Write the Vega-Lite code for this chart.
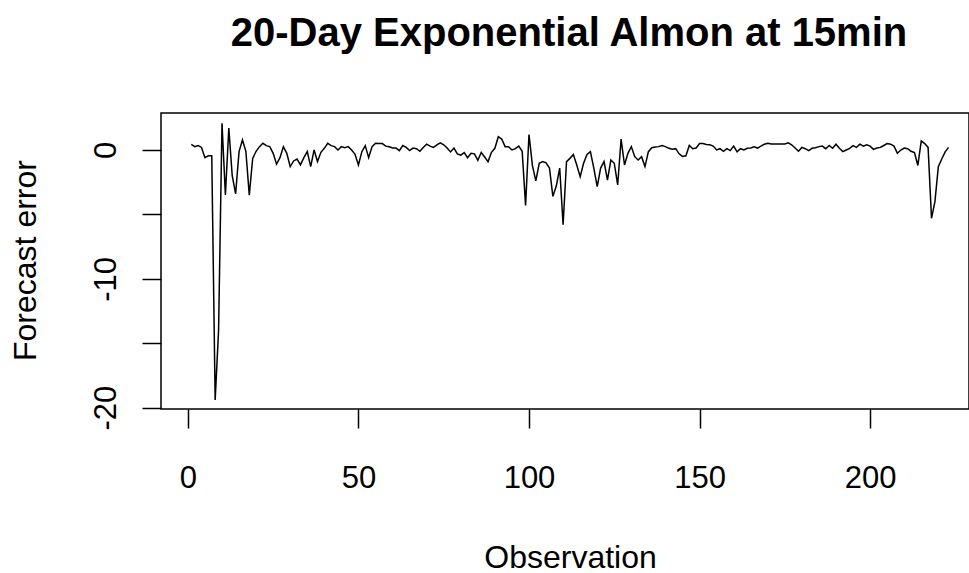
{
  "$schema": "https://vega.github.io/schema/vega-lite/v6.json",
  "autosize": {"type": "none"},
  "padding": {"left": 161, "top": 113, "right": 0, "bottom": 164},
  "width": 808,
  "height": 296,
  "background": "white",
  "config": {
    "view": {"stroke": "black", "strokeWidth": 1.5},
    "font": "Liberation Sans"
  },
  "title": {
    "text": "20-Day Exponential Almon at 15min",
    "font": "Liberation Sans",
    "fontSize": 40,
    "fontWeight": "bold",
    "color": "black",
    "anchor": "middle",
    "frame": "group",
    "baseline": "alphabetic",
    "offset": 27,
    "dx": 4
  },
  "data": {"values": [
    {"x":1,"y":0.44},{"x":2,"y":0.26},{"x":3,"y":0.34},{"x":4,"y":0.2},{"x":5,"y":-0.6},{"x":6,"y":-0.45},{"x":7,"y":-0.45},{"x":8,"y":-19.4},{"x":9,"y":-14.0},{"x":10,"y":2.07},
    {"x":11,"y":-3.5},{"x":12,"y":1.7},{"x":13,"y":-2.0},{"x":14,"y":-3.4},{"x":15,"y":-0.13},{"x":16,"y":0.78},{"x":17,"y":-0.1},{"x":18,"y":-3.5},{"x":19,"y":-0.65},{"x":20,"y":-0.1},
    {"x":21,"y":0.26},{"x":22,"y":0.52},{"x":23,"y":0.34},{"x":24,"y":0.26},{"x":25,"y":-0.26},{"x":26,"y":-1.1},{"x":27,"y":-0.6},{"x":28,"y":0.26},{"x":29,"y":-0.26},{"x":30,"y":-1.29},
    {"x":31,"y":-0.85},{"x":32,"y":-0.7},{"x":33,"y":-1.16},{"x":34,"y":-0.59},{"x":35,"y":-0.13},{"x":36,"y":-1.29},{"x":37,"y":0.0},{"x":38,"y":-0.9},{"x":39,"y":-0.18},{"x":40,"y":0.13},
    {"x":41,"y":0.52},{"x":42,"y":0.34},{"x":43,"y":0.26},{"x":44,"y":0.0},{"x":45,"y":0.26},{"x":46,"y":0.18},{"x":47,"y":0.26},{"x":48,"y":0.0},{"x":49,"y":-0.34},{"x":50,"y":-1.16},
    {"x":51,"y":-0.13},{"x":52,"y":0.34},{"x":53,"y":-0.59},{"x":54,"y":0.26},{"x":55,"y":0.52},{"x":56,"y":0.5},{"x":57,"y":0.5},{"x":58,"y":0.3},{"x":59,"y":0.25},{"x":60,"y":0.15},
    {"x":61,"y":0.15},{"x":62,"y":-0.05},{"x":63,"y":0.35},{"x":64,"y":0.2},{"x":65,"y":-0.05},{"x":66,"y":0.15},{"x":67,"y":0.1},{"x":68,"y":-0.1},{"x":69,"y":0.2},{"x":70,"y":0.45},
    {"x":71,"y":0.3},{"x":72,"y":0.2},{"x":73,"y":0.4},{"x":74,"y":0.55},{"x":75,"y":0.4},{"x":76,"y":0.15},{"x":77,"y":-0.15},{"x":78,"y":0.15},{"x":79,"y":-0.3},{"x":80,"y":-0.4},
    {"x":81,"y":-0.2},{"x":82,"y":-0.6},{"x":83,"y":-0.25},{"x":84,"y":-0.3},{"x":85,"y":-0.8},{"x":86,"y":-0.2},{"x":87,"y":-0.55},{"x":88,"y":-0.9},{"x":89,"y":-0.18},{"x":90,"y":0.13},
    {"x":91,"y":1.03},{"x":92,"y":0.85},{"x":93,"y":0.26},{"x":94,"y":0.26},{"x":95,"y":0.0},{"x":96,"y":0.1},{"x":97,"y":0.3},{"x":98,"y":-0.1},{"x":99,"y":-4.3},{"x":100,"y":1.2},
    {"x":101,"y":-1.2},{"x":102,"y":-2.4},{"x":103,"y":-1.03},{"x":104,"y":-0.9},{"x":105,"y":-1.0},{"x":106,"y":-1.4},{"x":107,"y":-3.6},{"x":108,"y":-2.8},{"x":109,"y":-1.4},{"x":110,"y":-5.8},
    {"x":111,"y":-0.9},{"x":112,"y":-0.65},{"x":113,"y":-0.35},{"x":114,"y":-1.16},{"x":115,"y":-2.07},{"x":116,"y":-1.03},{"x":117,"y":-0.34},{"x":118,"y":-0.13},{"x":119,"y":-1.4},{"x":120,"y":-2.84},
    {"x":121,"y":-1.4},{"x":122,"y":-0.9},{"x":123,"y":-2.33},{"x":124,"y":-0.78},{"x":125,"y":-1.03},{"x":126,"y":-2.71},{"x":127,"y":0.85},{"x":128,"y":-1.16},{"x":129,"y":-0.26},{"x":130,"y":0.26},
    {"x":131,"y":-0.52},{"x":132,"y":-0.78},{"x":133,"y":-0.52},{"x":134,"y":-1.29},{"x":135,"y":-0.13},{"x":136,"y":0.18},{"x":137,"y":0.23},{"x":138,"y":0.26},{"x":139,"y":0.34},{"x":140,"y":0.26},
    {"x":141,"y":0.13},{"x":142,"y":0.05},{"x":143,"y":0.1},{"x":144,"y":-0.3},{"x":145,"y":-0.5},{"x":146,"y":-0.45},{"x":147,"y":0.35},{"x":148,"y":0.1},{"x":149,"y":0.15},{"x":150,"y":0.5},
    {"x":151,"y":0.5},{"x":152,"y":0.43},{"x":153,"y":0.4},{"x":154,"y":0.3},{"x":155,"y":0.0},{"x":156,"y":0.1},{"x":157,"y":-0.1},{"x":158,"y":0.1},{"x":159,"y":-0.05},{"x":160,"y":0.3},
    {"x":161,"y":-0.15},{"x":162,"y":0.1},{"x":163,"y":0.0},{"x":164,"y":0.13},{"x":165,"y":0.15},{"x":166,"y":0.25},{"x":167,"y":0.15},{"x":168,"y":0.3},{"x":169,"y":0.45},{"x":170,"y":0.52},
    {"x":171,"y":0.47},{"x":172,"y":0.47},{"x":173,"y":0.47},{"x":174,"y":0.47},{"x":175,"y":0.47},{"x":176,"y":0.55},{"x":177,"y":0.4},{"x":178,"y":0.15},{"x":179,"y":-0.1},{"x":180,"y":0.2},
    {"x":181,"y":0.1},{"x":182,"y":-0.05},{"x":183,"y":0.13},{"x":184,"y":0.18},{"x":185,"y":0.26},{"x":186,"y":0.3},{"x":187,"y":0.1},{"x":188,"y":0.35},{"x":189,"y":0.13},{"x":190,"y":0.45},
    {"x":191,"y":0.13},{"x":192,"y":-0.13},{"x":193,"y":0.0},{"x":194,"y":0.13},{"x":195,"y":0.34},{"x":196,"y":0.2},{"x":197,"y":0.45},{"x":198,"y":0.3},{"x":199,"y":0.4},{"x":200,"y":0.3},
    {"x":201,"y":0.05},{"x":202,"y":0.15},{"x":203,"y":0.2},{"x":204,"y":0.35},{"x":205,"y":0.5},{"x":206,"y":0.45},{"x":207,"y":0.3},{"x":208,"y":-0.25},{"x":209,"y":0.0},{"x":210,"y":0.15},
    {"x":211,"y":0.1},{"x":212,"y":-0.1},{"x":213,"y":-0.2},{"x":214,"y":-1.2},{"x":215,"y":0.7},{"x":216,"y":0.5},{"x":217,"y":0.2},{"x":218,"y":-5.3},{"x":219,"y":-4.0},{"x":220,"y":-1.3},
    {"x":221,"y":-0.7},{"x":222,"y":-0.15},{"x":223,"y":0.2}
  ]},
  "mark": {"type": "line", "color": "black", "strokeWidth": 1.5},
  "encoding": {
    "x": {
      "field": "x",
      "type": "quantitative",
      "scale": {"domain": [-7.88, 228.99], "nice": false, "zero": false},
      "axis": {
        "values": [0, 50, 100, 150, 200],
        "grid": false,
        "domain": false,
        "ticks": true,
        "tickSize": 19,
        "tickWidth": 1.5,
        "tickColor": "black",
        "labelFont": "Liberation Sans",
        "labelFontSize": 31,
        "labelColor": "black",
        "labelBaseline": "alphabetic",
        "labelPadding": 59,
        "labelFlush": false,
        "labelOverlap": false,
        "title": "Observation",
        "titleFont": "Liberation Sans",
        "titleFontSize": 32,
        "titleFontWeight": "normal",
        "titleColor": "black",
        "titleBaseline": "alphabetic",
        "titleAlign": "center",
        "titleX": 409,
        "titleY": 158
      }
    },
    "y": {
      "field": "y",
      "type": "quantitative",
      "scale": {"domain": [-20.1, 2.87], "nice": false, "zero": false},
      "axis": {
        "values": [0, -5, -10, -15, -20],
        "grid": false,
        "domain": false,
        "ticks": true,
        "tickSize": 19,
        "tickWidth": 1.5,
        "tickColor": "black",
        "labelExpr": "datum.value % 10 == 0 ? '' + datum.value : ''",
        "labelFont": "Liberation Sans",
        "labelFontSize": 31,
        "labelColor": "black",
        "labelAngle": 270,
        "labelAlign": "center",
        "labelBaseline": "alphabetic",
        "labelPadding": 27,
        "labelFlush": false,
        "labelOverlap": false,
        "title": "Forecast error",
        "titleFont": "Liberation Sans",
        "titleFontSize": 32,
        "titleFontWeight": "normal",
        "titleColor": "black",
        "titleAngle": 270,
        "titleBaseline": "alphabetic",
        "titleAlign": "center",
        "titleX": -126,
        "titleY": 147
      }
    }
  }
}
